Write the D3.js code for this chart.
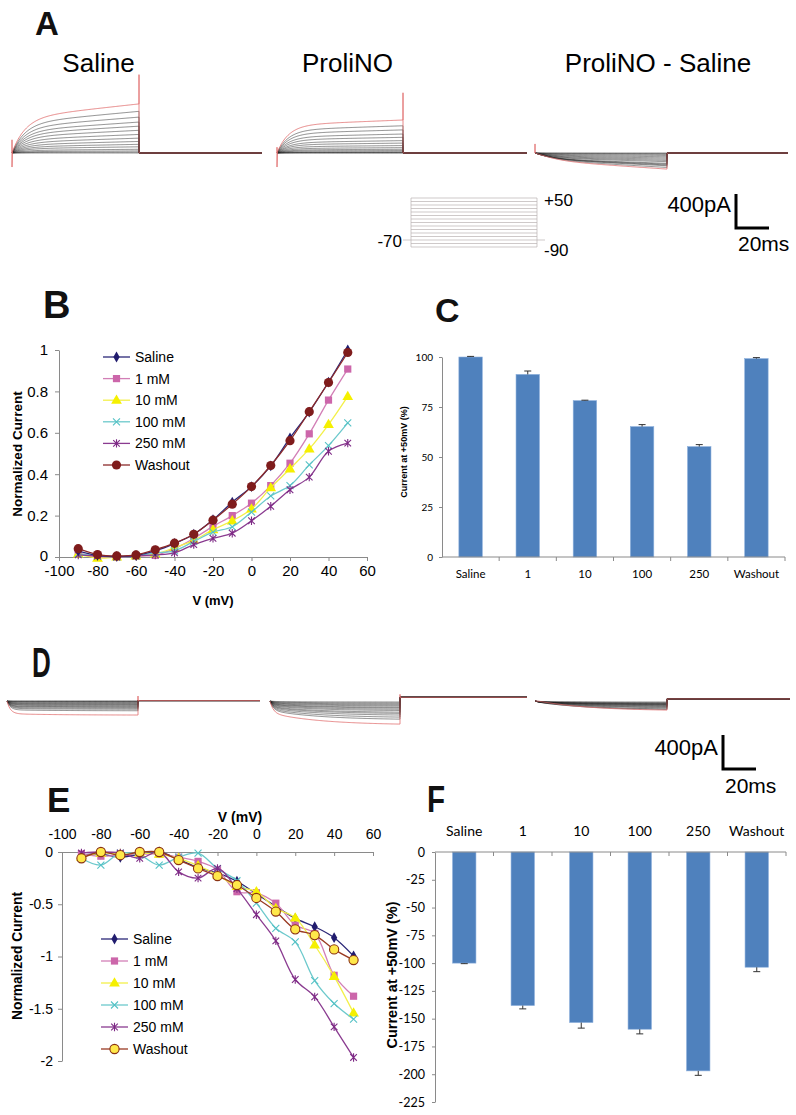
<!DOCTYPE html>
<html><head><meta charset="utf-8">
<script src="https://cdn.jsdelivr.net/npm/d3@7"></script>
<style>body{margin:0;background:#fff} svg{display:block}</style>
</head><body><svg id="fig" width="796" height="1115"></svg>
<script>
// ================= DATA =================
const voltages = [-90,-80,-70,-60,-50,-40,-30,-20,-10,0,10,20,30,40,50];
const seriesNames = ["Saline","1 mM","10 mM","100 mM","250 mM","Washout"];

// Panel B: normalized outward current (I-V)
const ivB_saline  = [0.03,0.008,0.003,0.008,0.03,0.065,0.11,0.18,0.265,0.34,0.44,0.575,0.70,0.845,1.0];
const ivB_1mM     = [0.02,0.0,0.0,0.005,0.008,0.04,0.09,0.148,0.20,0.26,0.345,0.453,0.595,0.758,0.908];
const ivB_10mM    = [0.015,-0.005,0.0,0.005,0.015,0.045,0.08,0.132,0.175,0.232,0.335,0.426,0.522,0.64,0.776];
const ivB_100mM   = [0.015,0.005,0.0,0.005,0.02,0.03,0.075,0.12,0.146,0.217,0.295,0.345,0.445,0.538,0.648];
const ivB_250mM   = [0.01,0.005,0.0,0.005,0.01,0.02,0.06,0.09,0.115,0.175,0.245,0.325,0.386,0.511,0.55];
const ivB_washout = [0.04,0.012,0.005,0.01,0.035,0.067,0.11,0.178,0.255,0.34,0.442,0.562,0.702,0.843,0.988];

// Panel E: normalized inward current (I-V)
const ivE_saline  = [-0.03,-0.02,-0.05,-0.02,0.0,-0.07,-0.15,-0.20,-0.28,-0.40,-0.52,-0.635,-0.715,-0.82,-0.995];
const ivE_1mM     = [-0.02,-0.04,-0.03,-0.02,-0.02,-0.05,-0.09,-0.17,-0.38,-0.39,-0.49,-0.70,-0.78,-1.18,-1.38];
const ivE_10mM    = [-0.05,-0.01,-0.02,-0.01,-0.02,-0.06,-0.13,-0.22,-0.33,-0.38,-0.54,-0.63,-0.89,-1.19,-1.54];
const ivE_100mM   = [-0.06,-0.125,-0.01,-0.03,-0.125,-0.05,-0.01,-0.16,-0.275,-0.49,-0.73,-0.86,-1.23,-1.45,-1.60];
const ivE_250mM   = [-0.01,0.0,-0.01,-0.06,0.0,-0.19,-0.25,-0.157,-0.35,-0.60,-0.85,-1.22,-1.386,-1.673,-1.966];
const ivE_washout = [-0.06,0.0,-0.03,0.0,0.0,-0.077,-0.157,-0.23,-0.316,-0.44,-0.57,-0.74,-0.795,-0.932,-1.034];

// Panels C and F: bar charts
const barCategories = ["Saline","1","10","100","250","Washout"];
const barC_values = [100, 91.3, 78.2, 65.2, 55.2, 99.2];
const barC_errors = [0.3, 1.7, 0.2, 1.0, 1.0, 0.5];
const barF_values = [-100, -138.2, -153.5, -159.5, -197, -103.7];
const barF_errors = [0.5, 3, 5, 4.2, 4, 4];

// tick labels
const ticksB_x = [-100,-80,-60,-40,-20,0,20,40,60];
const ticksB_y = [0,0.2,0.4,0.6,0.8,1];
const ticksC_y = [0,25,50,75,100];
const ticksE_x = [-100,-80,-60,-40,-20,0,20,40,60];
const ticksE_y = [0,-0.5,-1,-1.5,-2];
const ticksF_y = [0,-25,-50,-75,-100,-125,-150,-175,-200,-225];

// Panel A raw traces: end-of-step amplitude (pA) per voltage step
const traceA_saline  = [0,10,25,45,75,105,140,180,225,275,325,375,435,505,595];
const traceA_prolino = [0,3,8,15,30,45,65,90,120,150,190,230,280,330,400];
// Panel D raw traces: inward amplitude (pA) per voltage step
const traceD_saline  = [0,4,8,16,24,33,40,48,57,69,76,88,100,118,170];
const traceD_prolino = [12,24,36,48,60,75,85,100,115,135,150,170,195,220,280];
const protocolLevels = [-90,-80,-70,-60,-50,-40,-30,-20,-10,0,10,20,30,40,50];
const holdingPotential = -70;

// ================= DRAWING =================
const svg = d3.select("#fig");
svg.append("rect").attr("width",796).attr("height",1115).attr("fill","#fff");
const ARIAL = "'Liberation Sans', Arial, sans-serif";
const CAL = "Lato, 'Open Sans', sans-serif";

function txt(x,y,s,o={}) {
  const t = svg.append("text").attr("x",x).attr("y",y).text(s)
    .attr("font-family",o.family||ARIAL).attr("font-size",o.size||14)
    .attr("font-weight",o.weight||"normal").attr("fill",o.fill||"#000")
    .attr("text-anchor",o.anchor||"start");
  if (o.rotate) t.attr("transform",`rotate(${o.rotate},${x},${y})`);
  if (o.dy) t.attr("dy",o.dy);
  return t;
}
function panelLabel(x,y,s,size,sx) {
  svg.append("text").attr("transform",`translate(${x},${y}) scale(${sx||1},1)`)
    .text(s).attr("font-family",ARIAL).attr("font-size",size).attr("font-weight","900")
    .attr("fill","#111");
}
function styleAxis(g,color,size,family) {
  g.attr("font-family",family).attr("font-size",size);
  g.select(".domain").attr("stroke",color).attr("stroke-width",1);
  g.selectAll(".tick line").attr("stroke",color);
  g.selectAll(".tick text").attr("fill","#000");
}

// ---------- Panel labels ----------
panelLabel(35,35,"A",33);
panelLabel(43,318,"B",38);
panelLabel(435,322,"C",34);
panelLabel(32,677,"D",42,0.62);
panelLabel(47,812,"E",35);
panelLabel(427,812,"F",37,0.8);

// ---------- Traces ----------
const stepDur = 77, totalDur = 151;
function kin(k,t){ return k.a1*(1-Math.exp(-t/k.t1)) + (k.a2||0)*(1-Math.exp(-t/(k.t2||1))) + (k.slope||0)*t; }
const kinA_saline = {a1:0.72,t1:8,slope:0.0037};
const kinA_prolino = {a1:0.85,t1:7,slope:0.002};
const kinD_saline = {a1:0.9,t1:2,a2:0.1,t2:30};
const kinD_prolino = {a1:0.5,t1:2,a2:0.5,t2:30};
const norm = (k,t)=>kin(k,t)/kin(k,stepDur);

function buildTrace(f, tailVal, spk){
  const p=[[0,0]];
  if (spk){ p.push([0,spk.up]); p.push([0,spk.down]); }
  for (let t=0.25;t<=stepDur;t+=0.5) p.push([t,f(t)]);
  p.push([stepDur,f(stepDur)]);
  if (spk && spk.off) p.push([stepDur,spk.off]);
  p.push([stepDur,tailVal]); p.push([totalDur,tailVal]);
  return p;
}
function drawTraceGroup(xr, yScale, fns, tails, spk){
  const xs = d3.scaleLinear().domain([0,stepDur,totalDur]).range(xr);
  const line = d3.line().x(d=>xs(d[0])).y(d=>yScale(d[1]));
  const g = svg.append("g");
  const n = fns.length;
  fns.forEach((f,i)=>{
    if (i===n-1) return;
    g.append("path").attr("d",line(buildTrace(f,tails,null)))
      .attr("fill","none").attr("stroke","#222").attr("stroke-width",0.6).attr("stroke-opacity",0.85);
  });
  g.append("path").attr("d",line(buildTrace(fns[n-1],tails,spk)))
    .attr("fill","none").attr("stroke","#e06a6a").attr("stroke-width",0.8);
}

// Panel A
const yA = d3.scaleLinear().domain([0,400]).range([153,120]);
const fA_sal = traceA_saline.map(a=>t=>a*norm(kinA_saline,t));
const fA_pro = traceA_prolino.map(a=>t=>a*norm(kinA_prolino,t));
const fA_dif = traceA_saline.map((a,i)=>t=>fA_pro[i](t)-fA_sal[i](t));
drawTraceGroup([12,139,262], yA, fA_sal, 0, {up:160,down:-170,off:950});
drawTraceGroup([277,403,527], yA, fA_pro, 0, {up:70,down:-170,off:730});
drawTraceGroup([535,667,788], yA, fA_dif, 0, {up:110,down:0,off:0});

txt(98.5,72,"Saline",{size:26,anchor:"middle"});
txt(347.5,72,"ProliNO",{size:26,anchor:"middle"});
txt(658,72,"ProliNO - Saline",{size:26,anchor:"middle"});

// protocol inset
const yP = d3.scaleLinear().domain([-90,50]).range([247,198]);
const gP = svg.append("g").attr("stroke","#b9b2b2").attr("stroke-width",0.7).attr("fill","none");
protocolLevels.forEach(v=>gP.append("line").attr("x1",411).attr("x2",537).attr("y1",yP(v)).attr("y2",yP(v)));
gP.append("line").attr("x1",411).attr("x2",411).attr("y1",yP(-90)).attr("y2",yP(50));
gP.append("line").attr("x1",537).attr("x2",537).attr("y1",yP(-90)).attr("y2",yP(50));
gP.append("line").attr("x1",403).attr("x2",411).attr("y1",yP(holdingPotential)).attr("y2",yP(holdingPotential));
gP.append("line").attr("x1",537).attr("x2",545).attr("y1",yP(holdingPotential)).attr("y2",yP(holdingPotential));
txt(402,247,"-70",{size:17,anchor:"end"});
txt(544,206,"+50",{size:17});
txt(544,256,"-90",{size:17});

// scale bars
function scaleBar(xv, yBottom, textY, msY){
  svg.append("path").attr("d",`M${xv},${yBottom-34} V${yBottom} H${xv+33}`)
    .attr("fill","none").attr("stroke","#000").attr("stroke-width",3);
  txt(xv-5,textY,"400pA",{size:22,anchor:"end"});
  txt(xv+2,msY,"20ms",{size:21});
}
scaleBar(736,228,212,251);
scaleBar(723,769,755,793);

// Panel D
const yD = d3.scaleLinear().domain([0,400]).range([701,668]);
const fD_sal = traceD_saline.map(a=>t=>-a*norm(kinD_saline,t));
const fD_pro = traceD_prolino.map(a=>t=>-a*norm(kinD_prolino,t));
const fD_dif = traceD_saline.map((a,i)=>t=>fD_pro[i](t)-fD_sal[i](t));
drawTraceGroup([7,138,260], yD, fD_sal, 5, {up:0,down:0,off:60});
drawTraceGroup([270,400,527], yD, fD_pro, 45, {up:0,down:0,off:80});
drawTraceGroup([535,667,790], yD, fD_dif, 25, {up:0,down:0,off:0});

// ---------- Markers ----------
function drawMarker(g, kind, x, y, color, fill){
  if (kind==="diamond") g.append("path").attr("d",d3.symbol(d3.symbolDiamond,34)()).attr("transform",`translate(${x},${y})`).attr("fill",color);
  else if (kind==="square") g.append("path").attr("d",d3.symbol(d3.symbolSquare,52)()).attr("transform",`translate(${x},${y})`).attr("fill",color);
  else if (kind==="triangle") g.append("path").attr("d",d3.symbol(d3.symbolTriangle,50)()).attr("transform",`translate(${x},${y+0.5})`).attr("fill",color);
  else if (kind==="x") g.append("path").attr("d","M-3.5,-3.5L3.5,3.5M-3.5,3.5L3.5,-3.5").attr("transform",`translate(${x},${y})`).attr("stroke",color).attr("stroke-width",1.1).attr("fill","none");
  else if (kind==="star") g.append("path").attr("d","M-3.3,-3.3L3.3,3.3M-3.3,3.3L3.3,-3.3M0,-4.2V4.2").attr("transform",`translate(${x},${y})`).attr("stroke",color).attr("stroke-width",1.1).attr("fill","none");
  else if (kind==="circle") g.append("circle").attr("cx",x).attr("cy",y).attr("r",4.6).attr("fill",fill||color).attr("stroke",color).attr("stroke-width",fill?1.1:0);
}

function ivPanel(cfg){
  const g = svg.append("g");
  const line = d3.line().x((d,i)=>cfg.x(voltages[i])).y(d=>cfg.y(d)).curve(d3.curveCatmullRom.alpha(0.5));
  cfg.series.forEach(s=>{
    g.append("path").attr("d",line(s.values)).attr("fill","none").attr("stroke",s.line).attr("stroke-width",1.3);
    s.values.forEach((v,i)=>drawMarker(g,s.marker,cfg.x(voltages[i]),cfg.y(v),s.color,s.fill));
  });
  cfg.series.slice().sort((a,b)=>a.order-b.order).forEach((s,i)=>{
    const yy = cfg.legY + i*cfg.legStep;
    g.append("line").attr("x1",cfg.legX).attr("x2",cfg.legX+27).attr("y1",yy).attr("y2",yy).attr("stroke",s.line).attr("stroke-width",1.3);
    drawMarker(g,s.marker,cfg.legX+13.5,yy,s.color,s.fill);
    g.append("text").attr("x",cfg.legX+32).attr("y",yy).attr("dy","0.36em").text(s.name)
      .attr("font-family",ARIAL).attr("font-size",14);
  });
}

// ---------- Panel B ----------
const xB = d3.scaleLinear().domain([-100,60]).range([59,367]);
const yB = d3.scaleLinear().domain([0,1]).range([557,350]);
const gBx = svg.append("g").attr("transform","translate(0,557)")
  .call(d3.axisBottom(xB).tickValues(ticksB_x).tickSize(4).tickSizeOuter(0).tickPadding(4).tickFormat(d=>String(d)));
styleAxis(gBx,"#8a8a8a",15,ARIAL);
const gBy = svg.append("g").attr("transform","translate(59,0)")
  .call(d3.axisLeft(yB).tickValues(ticksB_y).tickSize(4).tickSizeOuter(0).tickPadding(7).tickFormat(d=>String(d)));
styleAxis(gBy,"#8a8a8a",15,ARIAL);
gBy.selectAll(".tick text").filter(d=>d===0).attr("dy","0.2em");
txt(17,454,"Normalized Current",{size:13.5,weight:"bold",anchor:"middle",rotate:-90,dy:"0.35em"});
txt(213,605,"V (mV)",{size:13,weight:"bold",anchor:"middle"});

ivPanel({x:xB,y:yB,legX:103,legY:357,legStep:21.6,series:[
  {name:"1 mM",values:ivB_1mM,line:"#d27fb6",color:"#cc66aa",marker:"square",order:1},
  {name:"10 mM",values:ivB_10mM,line:"#f3f04a",color:"#f5f000",marker:"triangle",order:2},
  {name:"100 mM",values:ivB_100mM,line:"#6cc9cc",color:"#55c2c6",marker:"x",order:3},
  {name:"250 mM",values:ivB_250mM,line:"#8a3b90",color:"#7e2a86",marker:"star",order:4},
  {name:"Saline",values:ivB_saline,line:"#2b2777",color:"#211c6e",marker:"diamond",order:0},
  {name:"Washout",values:ivB_washout,line:"#8c2a2a",color:"#7f1c1c",marker:"circle",order:5}
]});

// ---------- Panel C ----------
const xC = d3.scaleBand().domain(barCategories).range([442,785]).paddingInner(0.59).paddingOuter(0.295);
const yC = d3.scaleLinear().domain([0,100]).range([557,357]);
const gC = svg.append("g");
gC.selectAll("rect").data(barCategories).join("rect")
  .attr("x",d=>xC(d)).attr("width",xC.bandwidth())
  .attr("y",(d,i)=>yC(barC_values[i])).attr("height",(d,i)=>yC(0)-yC(barC_values[i]))
  .attr("fill","#4f81bd").attr("stroke","#8db0dc").attr("stroke-width",0.6);
barCategories.forEach((c,i)=>{
  const cx = xC(c)+xC.bandwidth()/2, y0=yC(barC_values[i]), y1=yC(barC_values[i]+barC_errors[i]);
  gC.append("path").attr("d",`M${cx},${y0}V${y1}M${cx-3.5},${y1}H${cx+3.5}`).attr("stroke","#333").attr("stroke-width",1).attr("fill","none");
});
const gCy = svg.append("g").attr("transform","translate(442,0)")
  .call(d3.axisLeft(yC).tickValues(ticksC_y).tickSize(3).tickSizeOuter(0).tickPadding(6).tickFormat(d=>String(d)));
styleAxis(gCy,"#8a8a8a",10,CAL);
svg.append("line").attr("x1",442).attr("x2",785).attr("y1",557).attr("y2",557).attr("stroke","#8a8a8a");
barCategories.forEach((c,i)=>{
  const bx = 442 + (i+1)*xC.step();
  svg.append("line").attr("x1",bx).attr("x2",bx).attr("y1",557).attr("y2",561).attr("stroke","#8a8a8a");
  txt(xC(c)+xC.bandwidth()/2,578,c,{size:11.5,family:CAL,anchor:"middle"});
});
txt(404,452,"Current at +50mV (%)",{size:9,weight:"bold",anchor:"middle",rotate:-90,dy:"0.35em"});

// ---------- Panel E ----------
const xE = d3.scaleLinear().domain([-100,60]).range([62,373]);
const yE = d3.scaleLinear().domain([-2,0]).range([1061,852]);
const gEx = svg.append("g").attr("transform","translate(0,852)")
  .call(d3.axisTop(xE).tickValues(ticksE_x).tickSizeInner(-4).tickSizeOuter(0).tickPadding(13).tickFormat(d=>String(d)));
styleAxis(gEx,"#8a8a8a",14,ARIAL);
const gEy = svg.append("g").attr("transform","translate(62,0)")
  .call(d3.axisLeft(yE).tickValues(ticksE_y).tickSize(4).tickSizeOuter(0).tickPadding(5).tickFormat(d=>String(d)));
styleAxis(gEy,"#8a8a8a",14,ARIAL);
txt(17,956,"Normalized Current",{size:13.8,weight:"bold",anchor:"middle",rotate:-90,dy:"0.35em"});
txt(240,822,"V (mV)",{size:14,weight:"bold",anchor:"middle"});

ivPanel({x:xE,y:yE,legX:101,legY:939,legStep:22,series:[
  {name:"Saline",values:ivE_saline,line:"#2b2777",color:"#211c6e",marker:"diamond",order:0},
  {name:"1 mM",values:ivE_1mM,line:"#d27fb6",color:"#cc66aa",marker:"square",order:1},
  {name:"10 mM",values:ivE_10mM,line:"#f3f04a",color:"#f5f000",marker:"triangle",order:2},
  {name:"100 mM",values:ivE_100mM,line:"#6cc9cc",color:"#55c2c6",marker:"x",order:3},
  {name:"250 mM",values:ivE_250mM,line:"#8a3b90",color:"#7e2a86",marker:"star",order:4},
  {name:"Washout",values:ivE_washout,line:"#9a3a22",color:"#8a3212",fill:"#ffe84a",marker:"circle",order:5}
]});

// ---------- Panel F ----------
const xF = d3.scaleBand().domain(barCategories).range([435,786]).paddingInner(0.6).paddingOuter(0.3);
const yF = d3.scaleLinear().domain([-225,0]).range([1102,852]);
const gF = svg.append("g");
gF.selectAll("rect").data(barCategories).join("rect")
  .attr("x",d=>xF(d)).attr("width",xF.bandwidth())
  .attr("y",yF(0)).attr("height",(d,i)=>yF(barF_values[i])-yF(0))
  .attr("fill","#4f81bd").attr("stroke","#8db0dc").attr("stroke-width",0.6);
barCategories.forEach((c,i)=>{
  const cx = xF(c)+xF.bandwidth()/2, y0=yF(barF_values[i]), y1=yF(barF_values[i]-barF_errors[i]);
  gF.append("path").attr("d",`M${cx},${y0}V${y1}M${cx-3.5},${y1}H${cx+3.5}`).attr("stroke","#333").attr("stroke-width",1).attr("fill","none");
});
const gFy = svg.append("g").attr("transform","translate(435,0)")
  .call(d3.axisLeft(yF).tickValues(ticksF_y).tickSize(3).tickSizeOuter(0).tickPadding(7).tickFormat(d=>String(d)));
styleAxis(gFy,"#8a8a8a",12.5,CAL);
svg.append("line").attr("x1",435).attr("x2",786).attr("y1",852).attr("y2",852).attr("stroke","#8a8a8a");
barCategories.forEach((c,i)=>{
  const bx = 435 + (i+1)*xF.step();
  svg.append("line").attr("x1",bx).attr("x2",bx).attr("y1",852).attr("y2",856).attr("stroke","#8a8a8a");
  txt(xF(c)+xF.bandwidth()/2,836,c,{size:14,family:CAL,anchor:"middle"});
});
txt(392,975,"Current at +50mV (%)",{size:14.5,weight:"bold",anchor:"middle",rotate:-90,dy:"0.35em"});
</script></body></html>
